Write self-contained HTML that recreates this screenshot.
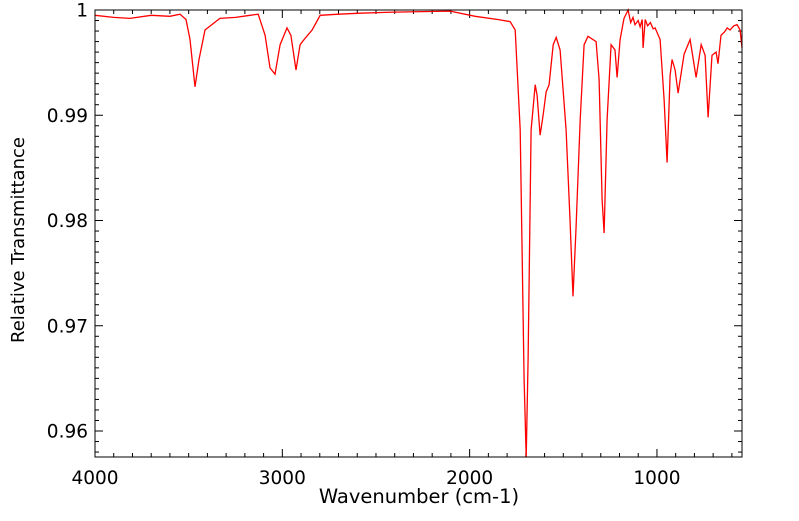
<!DOCTYPE html>
<html><head><meta charset="utf-8"><style>
body{margin:0;background:#fff;}
svg text{font-family:"DejaVu Sans","Liberation Sans",sans-serif;fill:#000;}
</style></head><body>
<svg id="chart" width="799" height="516" xmlns="http://www.w3.org/2000/svg">
<rect x="0" y="0" width="799" height="516" fill="#fff"/>
<g id="ticks"></g>
<path id="spec" fill="none" stroke="#ff0000" stroke-width="1.3"/>
<rect x="95" y="10" width="647" height="447" fill="none" stroke="#000" stroke-width="1"/>
<text x="419" y="503" font-size="19.5" text-anchor="middle">Wavenumber (cm-1)</text>
<text transform="translate(24,240) rotate(-90)" font-size="18" text-anchor="middle">Relative Transmittance</text>
</svg>
<script>
const wavenumbers=[4000,3900,3813,3700,3600,3546,3514,3493,3466,3445,3413,3333,3250,3172,3129,3092,3066,3039,3012,2975,2954,2927,2905,2879,2841,2798,2700,2585,2400,2104,1971,1850,1784,1757,1730,1709,1698,1688,1672,1650,1640,1624,1608,1592,1576,1554,1538,1517,1485,1464,1448,1432,1410,1389,1368,1325,1309,1293,1282,1266,1245,1224,1213,1197,1176,1154,1140,1128,1117,1100,1090,1079,1074,1063,1050,1035,1020,1010,983,962,946,930,919,903,887,855,823,791,764,743,727,706,684,674,658,640,625,610,590,572,556,546];
const transmittance=[.9995,.9993,.9992,.9995,.9994,.9996,.9991,.9972,.9927,.9953,.9981,.9992,.9993,.9995,.9996,.9976,.9945,.9939,.9967,.9983,.9976,.9943,.9967,.9973,.9981,.9995,.9996,.9997,.9998,.9999,.9994,.9991,.9989,.9981,.9886,.9649,.9575,.9668,.9886,.9929,.9919,.9881,.9900,.9922,.9929,.9967,.9974,.9962,.9886,.9801,.9728,.9792,.9896,.9967,.9975,.9970,.9934,.9820,.9788,.9896,.9967,.9962,.9936,.9972,.9992,1.0,.9988,.9993,.9986,.9990,.9984,.9991,.9964,.9991,.9985,.9988,.9982,.9983,.9972,.9915,.9855,.9938,.9953,.9943,.9921,.9958,.9972,.9936,.9967,.9957,.9898,.9957,.9960,.9949,.9976,.9979,.9983,.9981,.9985,.9986,.9981,.9964];
const xTicks=[4000,3000,2000,1000];
const yTicks=[0.96,0.97,0.98,0.99,1];
const yTickLabels=["0.96","0.97","0.98","0.99","1"];
const X0=95,X1=742,Y0=10,Y1=457;
const wnMax=4000,wnMin=546,tMax=1.0,tMin=0.95753;
function xs(w){return X0+(wnMax-w)/(wnMax-wnMin)*(X1-X0);}
function ys(t){return Y0+(tMax-t)/(tMax-tMin)*(Y1-Y0);}
let d="";
wavenumbers.forEach((w,i)=>{d+=(i?"L":"M")+xs(w).toFixed(1)+","+ys(transmittance[i]).toFixed(1);});
document.getElementById('spec').setAttribute('d',d);
const g=document.getElementById('ticks');
const NS="http://www.w3.org/2000/svg";
function line(x1,y1,x2,y2){const l=document.createElementNS(NS,'line');l.setAttribute('x1',x1);l.setAttribute('y1',y1);l.setAttribute('x2',x2);l.setAttribute('y2',y2);l.setAttribute('stroke','#000');l.setAttribute('stroke-width','1');


g.appendChild(l);}
for(let w=4000;w>=wnMin;w-=100){const x=xs(w);const L=(w%1000===0)?8:4;line(x,Y1,x,Y1-L);line(x,Y0,x,Y0+L);}
for(let k=0;k<=43;k++){const t=0.957+k*0.001;if(t>tMax+1e-9||t<tMin)continue;const y=ys(t);const major=Math.abs(Math.round(t*100)-t*100)<1e-6;const L=major?8:4;line(X0,y,X0+L,y);line(X1,y,X1-L,y);}
xTicks.forEach(w=>{const t=document.createElementNS(NS,'text');t.setAttribute('x',xs(w));t.setAttribute('y',484);t.setAttribute('font-size','18.5');t.setAttribute('text-anchor','middle');t.textContent=w;


g.appendChild(t);});
yTicks.forEach((v,i)=>{const t=document.createElementNS(NS,'text');t.setAttribute('x',88);t.setAttribute('y',ys(v)+6.5);t.setAttribute('font-size','18.5');t.setAttribute('text-anchor','end');t.textContent=yTickLabels[i];


g.appendChild(t);});
</script>
</body></html>
